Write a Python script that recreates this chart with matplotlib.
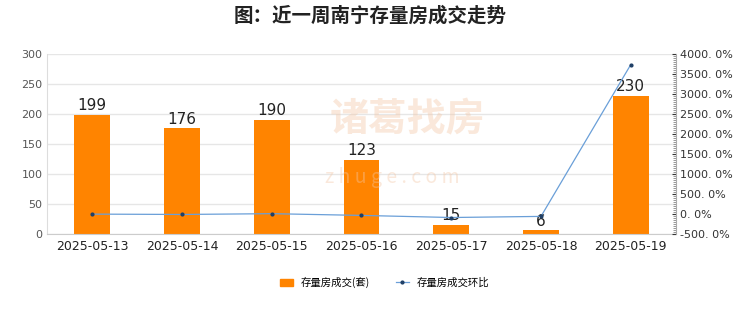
import numpy as np
import matplotlib.pyplot as plt
from matplotlib.ticker import FuncFormatter, AutoMinorLocator
from matplotlib.patches import Patch
from matplotlib.lines import Line2D

plt.rcParams['font.family'] = ['Noto Sans CJK SC', 'DejaVu Sans']

dates = ['2025-05-13', '2025-05-14', '2025-05-15', '2025-05-16',
         '2025-05-17', '2025-05-18', '2025-05-19']
volume = [199, 176, 190, 123, 15, 6, 230]
change_pct = [-3.0, -11.6, 8.0, -35.3, -87.8, -60.0, 3733.3]

fig = plt.figure(figsize=(7.4, 3.12), dpi=100)
ax = fig.add_axes([0.064, 0.25, 0.849, 0.577])
x = np.arange(len(dates))

# watermark, faint, over bars
ax.text(0.55, 0.615, '诸葛找房', transform=fig.transFigure, ha='center', va='center',
        fontsize=28, color='#f3c7a6', alpha=0.4, fontweight='bold', zorder=3)
ax.text(0.53, 0.43, 'z h u g e . c o m', transform=fig.transFigure, ha='center',
        va='center', fontsize=14, color='#f3c7a6', alpha=0.4, zorder=3)

ax.bar(x, volume, width=0.4, color='#ff8400', zorder=2)
for xi, v in zip(x, volume):
    ax.text(xi, v + 3, str(v), ha='center', va='bottom', fontsize=11,
            color='#222222', family='DejaVu Sans', zorder=4)

ax.set_ylim(0, 300)
ax.set_yticks(range(0, 301, 50))
ax.set_xlim(-0.5, len(dates) - 0.5)
ax.set_xticks(x)
ax.set_xticklabels(dates, fontsize=9, color='#222222', family='DejaVu Sans')
for lbl in ax.get_yticklabels():
    lbl.set_family('DejaVu Sans')
ax.tick_params(axis='y', labelsize=8, colors='#555555', length=0)
ax.tick_params(axis='x', length=0, pad=4)
ax.grid(axis='y', color='#e6e6e6', linewidth=1, zorder=0)
for side in ['top', 'right']:
    ax.spines[side].set_visible(False)
ax.spines['left'].set_color('#dddddd')
ax.spines['bottom'].set_color('#cccccc')

ax2 = ax.twinx()
ax2.plot(x, change_pct, color='#6a9fd8', linewidth=0.9, marker='o',
         markersize=2, markerfacecolor='#1f3f66', markeredgecolor='#1f3f66', zorder=3)
ax2.set_ylim(-500, 4000)
ax2.set_yticks(range(-500, 4001, 500))
ax2.yaxis.set_major_formatter(FuncFormatter(lambda v, p: ('%.1f' % v).replace('.', '. ') + '%'))
ax2.yaxis.set_minor_locator(AutoMinorLocator(10))
ax2.tick_params(axis='y', which='major', labelsize=8, colors='#333333', length=3, direction='in')
ax2.tick_params(axis='y', which='minor', length=2, direction='in', colors='#888888')
for lbl in ax2.get_yticklabels():
    lbl.set_family('DejaVu Sans')
for side in ['top', 'left', 'bottom']:
    ax2.spines[side].set_visible(False)
ax2.spines['right'].set_color('#aaaaaa')

fig.text(0.5, 0.95, '图：近一周南宁存量房成交走势', ha='center', va='center',
         fontsize=14, fontweight='bold', color='#222222')

handles = [Patch(color='#ff8400'),
           Line2D([0], [0], color='#6a9fd8', marker='o', markersize=2,
                  markerfacecolor='#1f3f66', markeredgecolor='#1f3f66', linewidth=0.9)]
fig.legend(handles, ['存量房成交(套)', '存量房成交环比'], loc='center',
           bbox_to_anchor=(0.52, 0.095), ncol=2, frameon=False, fontsize=7.5,
           handlelength=1.2, handleheight=0.7, columnspacing=2.5)

fig.savefig('out.png', dpi=100)
